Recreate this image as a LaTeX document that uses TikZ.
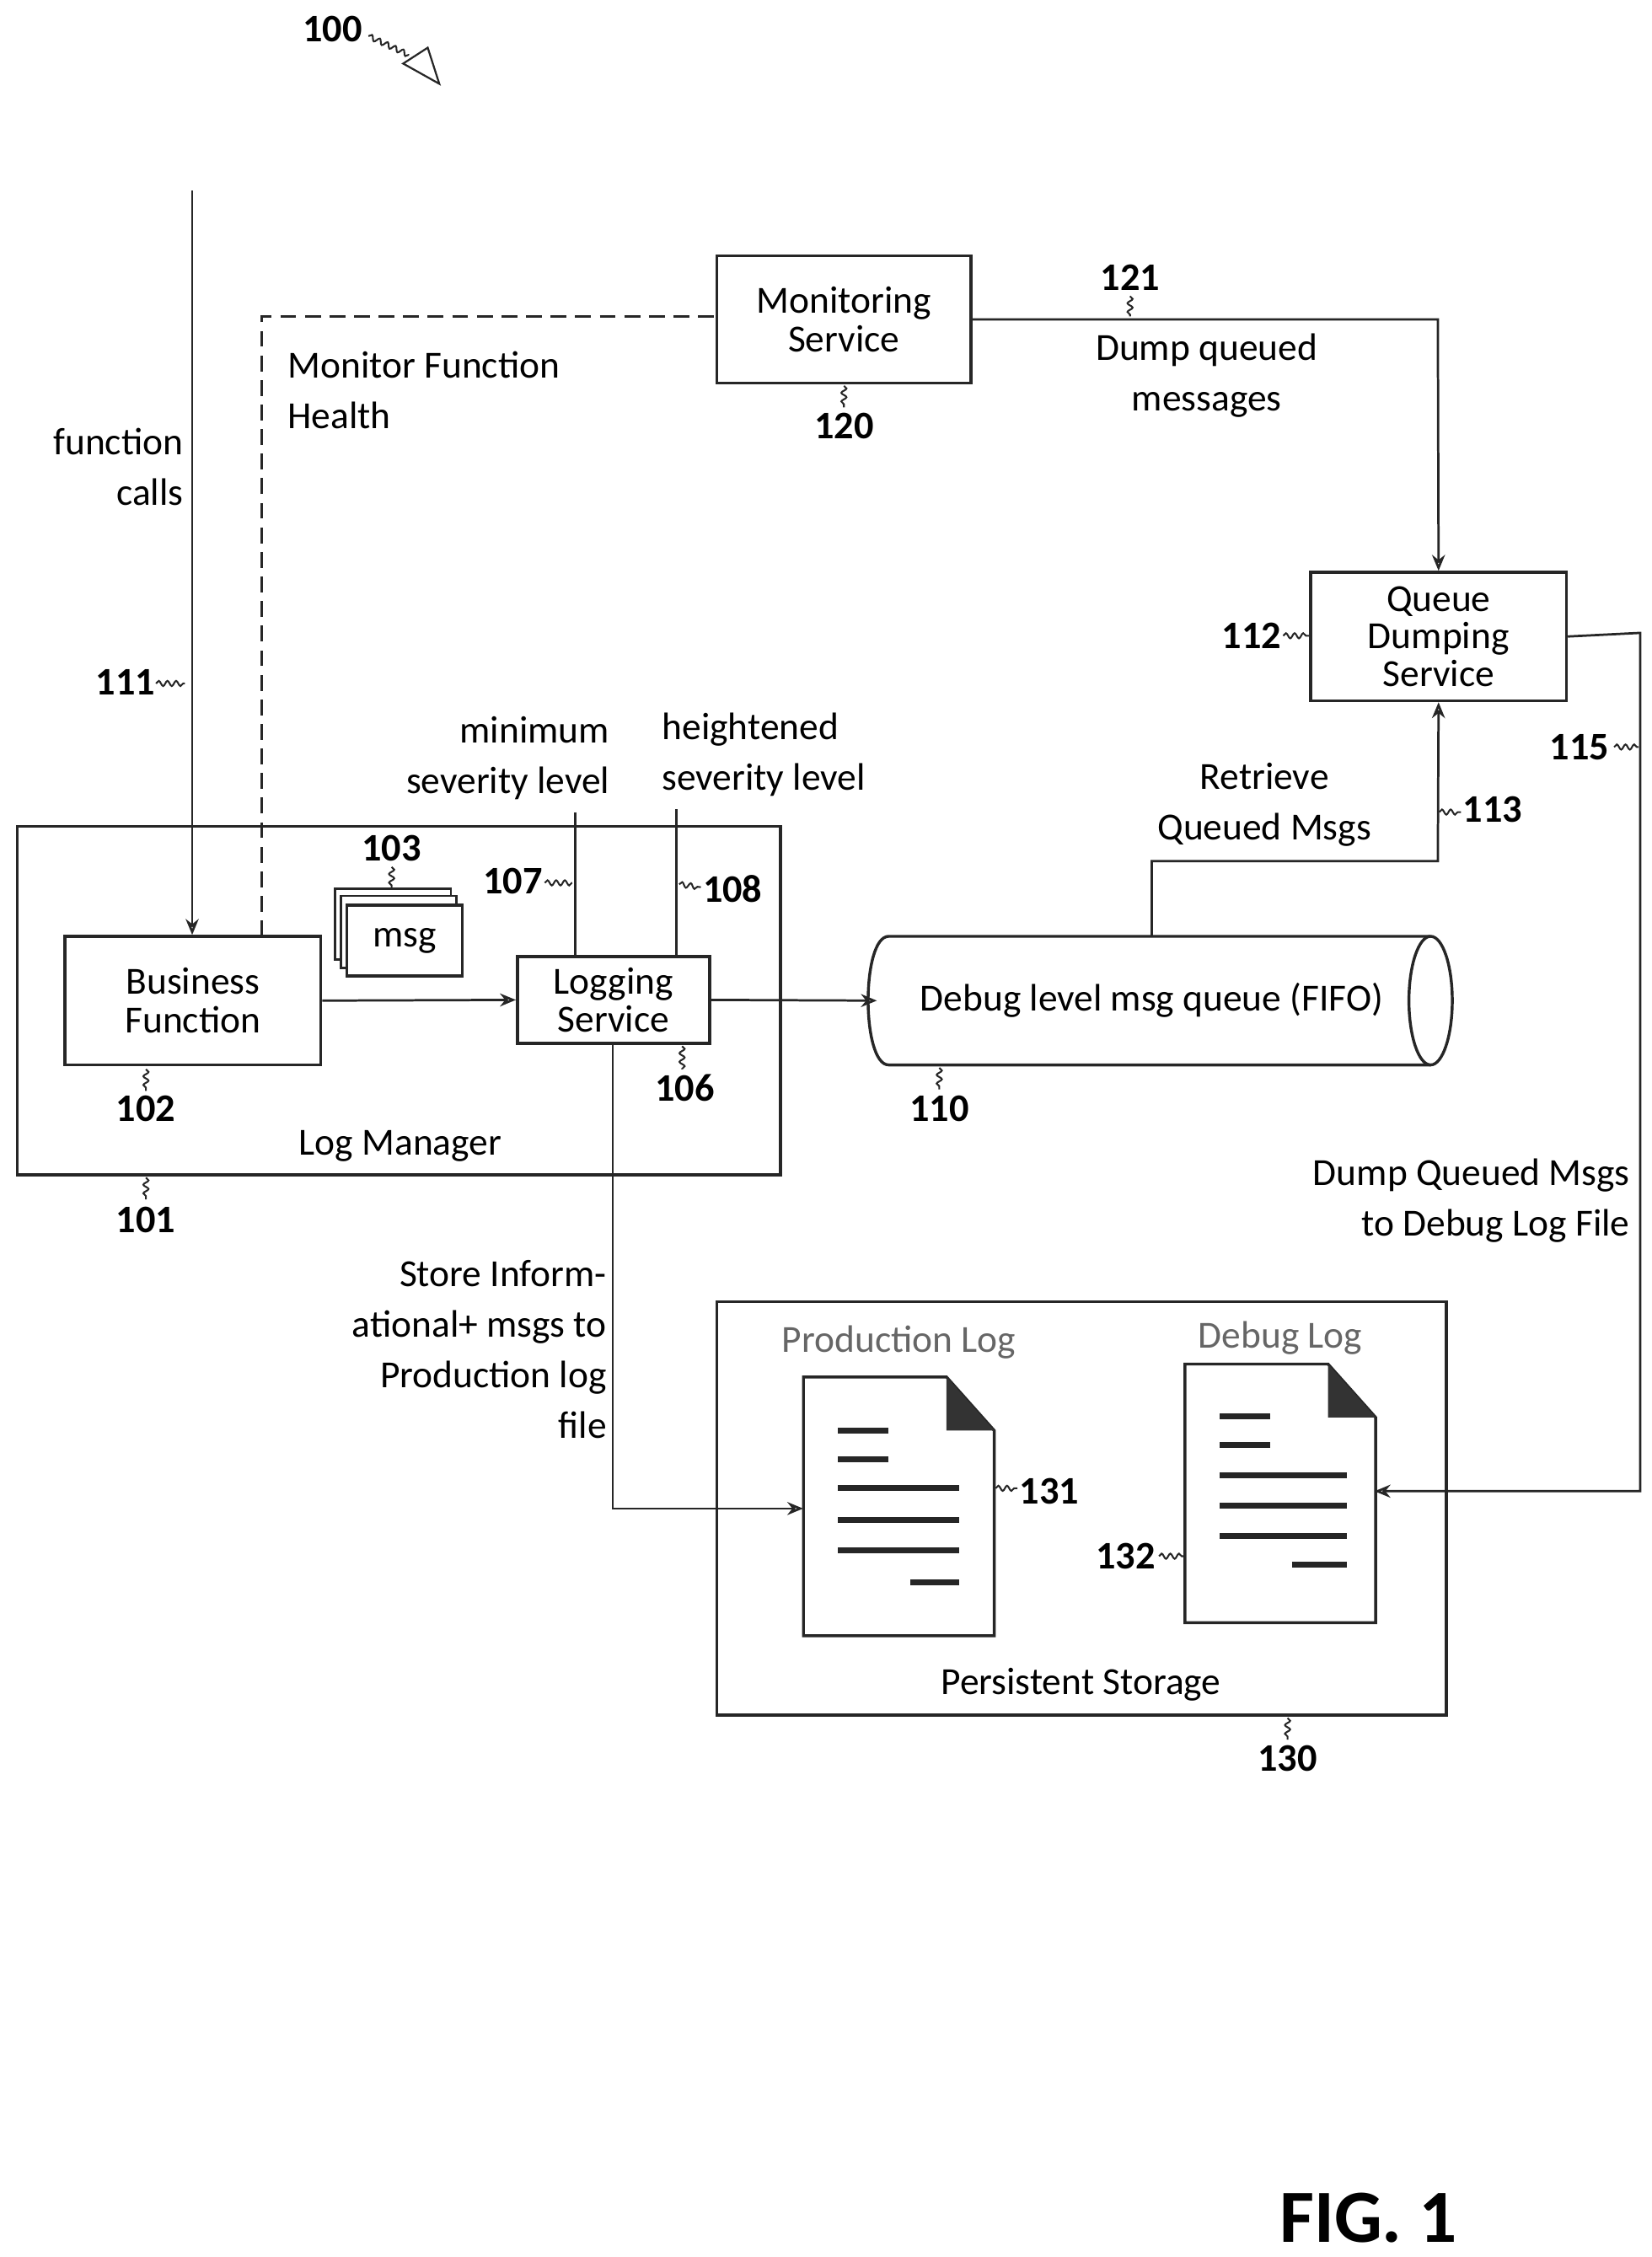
\documentclass[tikz,border=0pt]{standalone}
\usepackage{fontspec}
\setmainfont{Carlito}
\usetikzlibrary{arrows.meta,decorations.pathmorphing}
\begin{document}
\begin{tikzpicture}[x=1pt,y=-1pt,
  every node/.style={font=\fontsize{26.5}{35}\selectfont, inner sep=0pt},
  box/.style={draw=black!85, line width=2pt, minimum width=#1, align=center},
  ln/.style={draw=black!85, line width=1.6pt},
  arr/.style={ln,-{Stealth[open,length=11pt,width=9pt]}},
  num/.style={font=\fontsize{27}{30}\selectfont\bfseries},
  sq/.style={draw=black!85, line width=1.2pt, decorate, decoration={snake,amplitude=1.8pt,segment length=6pt}},
  bar/.style={draw=black!85, line width=4pt}]
\useasboundingbox (0,0) rectangle (1143,1562);
% boxes
\node[box=177pt, minimum height=89pt] (bf) at (133.5,692.5) {Business\\[-8pt]Function};
\node[box=133pt, minimum height=60pt] (ls) at (424.5,692) {Logging\\[-9pt]Service};
\node[box=176pt, minimum height=88pt] (ms) at (584,221) {Monitoring\\[-8pt]Service};
\node[box=177pt, minimum height=89pt] (qd) at (995.5,440.5) {Queue\\[-9pt]Dumping\\[-9pt]Service};
\draw[ln,line width=2pt] (12,572) rectangle (540,813);
\node (lm) at (277,793) {Log Manager};
\draw[ln,line width=2pt] (496,901) rectangle (1001,1187);
\node (ps) at (748,1166) {Persistent Storage};
% msg stack
\draw[ln,fill=white] (232,615) rectangle (312,664);
\draw[ln,fill=white] (236,620) rectangle (316,670);
\node[box=80pt, minimum height=49pt, fill=white] (msg) at (280,651) {msg};
% cylinder
\node[minimum width=390pt, minimum height=89pt] (q) at (802,692.5) {\hspace*{-10pt}Debug level msg queue (FIFO)};
\draw[ln,line width=2pt] (990,648) -- (615,648) .. controls (596,648) and (596,737) .. (615,737) -- (990,737);
\draw[ln,line width=2pt] (990,692.5) ellipse [x radius=15, y radius=44.5];
\coordinate (qt) at (797,648);
% documents
\foreach \x/\y in {556/953, 820/944}{
  \draw[ln,line width=2pt,fill=white] (\x,\y) -- ++(99,0) -- ++(33,37) -- ++(0,142) -- ++(-132,0) -- cycle;
  \fill[black!80] (\x+99,\y) -- ++(33,37) -- ++(-33,0) -- cycle;
}
\node[minimum width=132pt,minimum height=179pt] (d1) at (622,1042.5) {};
\node[minimum width=131pt,minimum height=176pt] (d2) at (885.5,1032) {};
\foreach \y/\a/\b in {990/580/615, 1010/580/615, 1030/580/664, 1052/580/664, 1073/580/664, 1095/630/664}{
  \draw[bar] (\a,\y) -- (\b,\y);}
\foreach \y/\a/\b in {980/844/879, 1000/844/879, 1021/844/932, 1042/844/932, 1063/844/932, 1083/894/932}{
  \draw[bar] (\a,\y) -- (\b,\y);}
\node[text=black!60] (pl) at (622,929) {Production Log};
\node[text=black!60] (dl) at (886,926) {Debug Log};
% connectors
\coordinate (fc) at (133,132);
\draw[arr] (fc) -- (bf.north -| fc);
\draw[ln,dash pattern=on 11pt off 6pt,line width=2pt] (181,648) -- (181,219) -- (ms.west |- 0,219);
\draw[arr] (ms.east) -- (995,221) -- (qd.north);
\draw[arr] (qd.east) -- (1135,438) -- (1135,1032) -- (d2.east);
\draw[arr] (bf.east) -- (ls.west);
\draw[arr] (ls.east) -- (q.west);
\draw[arr] (qt) -- (797,596) -- (995,596) -- (qd.south);
\coordinate (ls1) at (424,722);
\draw[arr] (ls1) -- (424,1044) -- (d1.west |- 0,1044);
\coordinate (m107) at (398,562);
\draw[ln] (m107) -- (ls.north -| m107);
\coordinate (m108) at (468,560);
\draw[ln] (m108) -- (ls.north -| m108);
% texts
\node[align=right,anchor=north east] (t1) at (127,296) {function\\calls};
\node[align=left,anchor=north west] (t2) at (199,243) {Monitor Function\\Health};
\node[align=center] (t3) at (835,260) {Dump queued\\messages};
\node[align=right,anchor=north east] (t4) at (422,496) {minimum\\severity level};
\node[align=left,anchor=north west] (t5) at (458,493) {heightened\\severity level};
\node[align=center] (t6) at (875,557) {Retrieve\\Queued Msgs};
\node[align=right,anchor=north east] (t7) at (1128,802) {Dump Queued Msgs\\to Debug Log File};
\node[align=right,anchor=north east] (t8) at (420,872) {Store Inform-\\ational+ msgs to\\Production log\\file};
% numbers
\node[num] (n100) at (230,20) {100};
\draw[sq] (255,25) -- (283,38);
\draw[ln,fill=white,line width=1.3pt] (279,44) -- (296,33) -- (304,58) -- cycle;
\node[num] (n111) at (87,472) {111};
\draw[sq] (108,473) -- (128,473);
\node[num] (n102) at (101,767) {102};
\draw[sq] (101,740) -- (101,755);
\node[num] (n103) at (271,587) {103};
\draw[sq] (271,600) -- (271,615);
\node[num] (n107) at (355,610) {107};
\draw[sq] (377,611) -- (396,611);
\node[num] (n108) at (507,615) {108};
\draw[sq] (470,612) -- (485,614);
\node[num] (n106) at (474,753) {106};
\draw[sq] (472,724) -- (472,740);
\node[num] (n101) at (101,844) {101};
\draw[sq] (101,815) -- (101,830);
\node[num] (n110) at (650,767) {110};
\draw[sq] (650,739) -- (650,754);
\node[num] (n120) at (584,295) {120};
\draw[sq] (584,267) -- (584,282);
\node[num] (n121) at (782,192) {121};
\draw[sq] (782,205) -- (782,219);
\node[num] (n112) at (866,440) {112};
\draw[sq] (888,440) -- (906,440);
\node[num] (n113) at (1033,560) {113};
\draw[sq] (996,562) -- (1011,562);
\node[num] (n115) at (1093,517) {115};
\draw[sq] (1117,517) -- (1134,517);
\node[num] (n131) at (726,1032) {131};
\draw[sq] (689,1030) -- (704,1030);
\node[num] (n132) at (779,1077) {132};
\draw[sq] (802,1077) -- (819,1077);
\node[num] (n130) at (891,1217) {130};
\draw[sq] (891,1189) -- (891,1204);
\node[font=\fontsize{52}{56}\selectfont\bfseries] (fig) at (947,1535) {FIG. 1};
\end{tikzpicture}
\end{document}
